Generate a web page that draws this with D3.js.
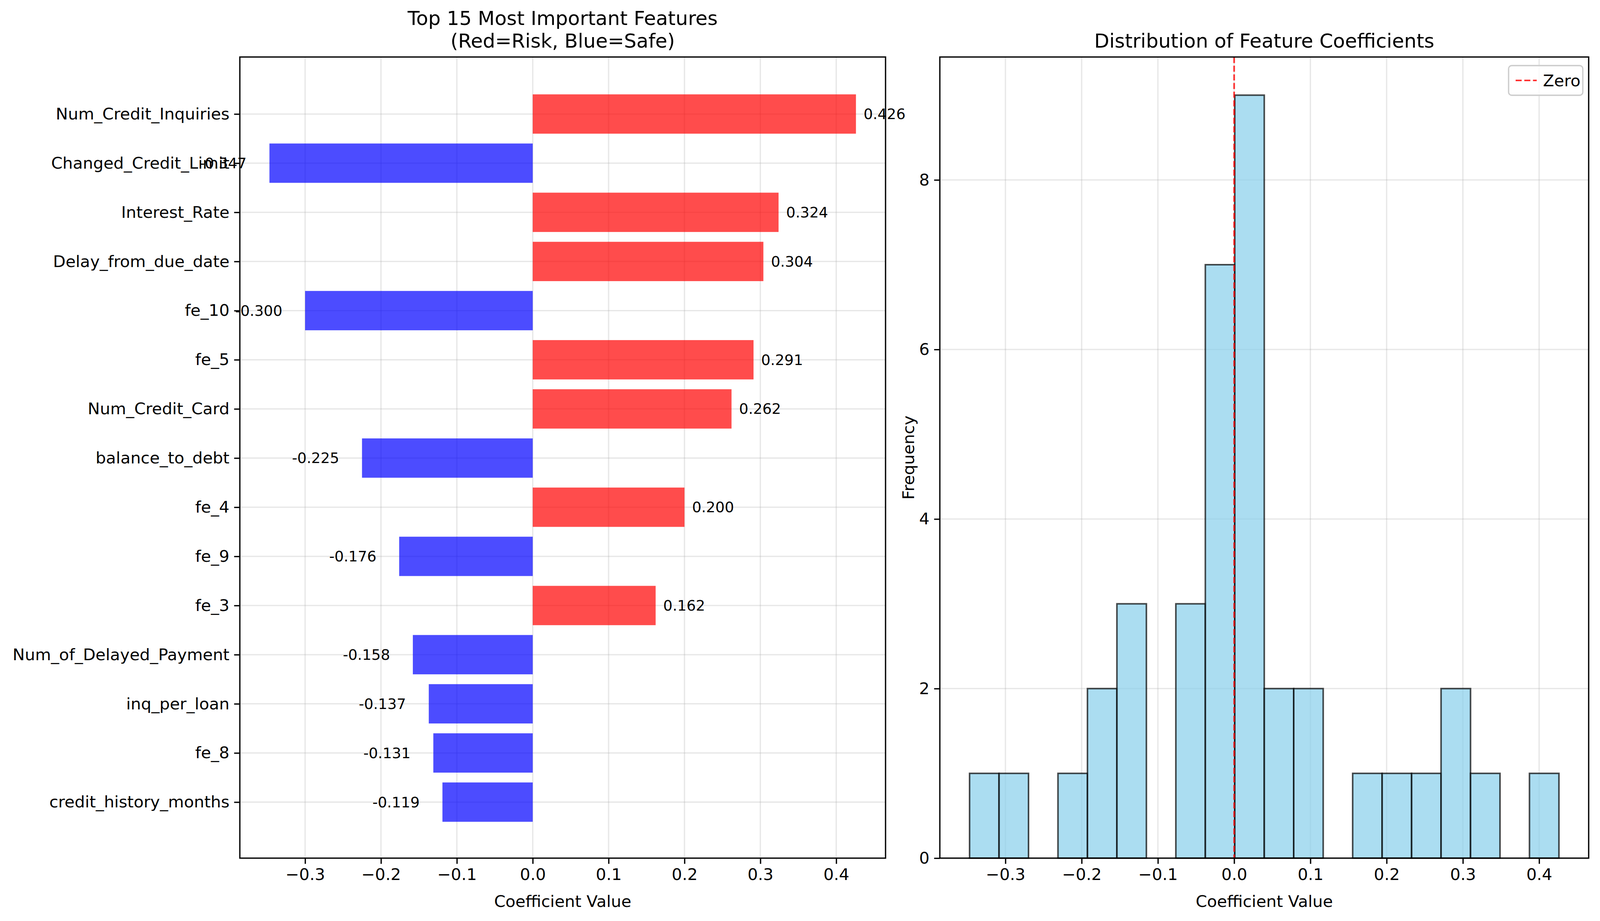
<!DOCTYPE html>
<html>
<head>
<meta charset="utf-8">
<script src="https://cdn.jsdelivr.net/npm/d3@7"></script>
<style>
  body { margin: 0; background: #fff; }
  text { font-family: "DejaVu Sans", sans-serif; fill: #000; }
</style>
</head>
<body>
<svg id="chart" width="4168" height="2359"></svg>
<script>
"use strict";

var features = ["Num_Credit_Inquiries", "Changed_Credit_Limit", "Interest_Rate", "Delay_from_due_date",
    "fe_10", "fe_5", "Num_Credit_Card", "balance_to_debt", "fe_4", "fe_9", "fe_3",
    "Num_of_Delayed_Payment", "inq_per_loan", "fe_8", "credit_history_months"];
var coefs = [0.426, -0.347, 0.324, 0.304, -0.300, 0.291, 0.262, -0.225, 0.200, -0.176, 0.162,
    -0.158, -0.137, -0.131, -0.119];

var histCounts = [1, 1, 0, 1, 2, 3, 0, 3, 7, 9, 2, 2, 0, 1, 1, 1, 2, 1, 0, 1];
var histMin = -0.347, histMax = 0.426;

var xTicks = [-0.3, -0.2, -0.1, 0.0, 0.1, 0.2, 0.3, 0.4];
var freqTicks = [0, 2, 4, 6, 8];

var svg = d3.select("#chart");
var FS = 41.7;
var LW = 3.3;

function frame(g, w, h) {
    g.append("rect").attr("width", w).attr("height", h)
        .attr("fill", "none").attr("stroke", "#000").attr("stroke-width", LW);
}
function styleAxis(a) {
    a.select(".domain").remove();
    a.selectAll("line").attr("stroke-width", LW);
    a.selectAll("text").attr("font-size", FS).style("font-family", "DejaVu Sans");
}
function fmtTick(d) { return d.toFixed(1).replace("-", "\u2212"); }

// ---------- left: bar chart ----------
var L = {x: 614, y: 146, w: 1653, h: 2052};
var gl = svg.append("g").attr("transform", "translate(" + L.x + "," + L.y + ")");
var xl = d3.scaleLinear().domain([-0.386, 0.465]).range([0, L.w]);
var yl = d3.scaleLinear().domain([-1.16, 15.14]).range([0, L.h]);

gl.selectAll(".vg").data(xTicks).enter().append("line")
    .attr("x1", xl).attr("x2", xl).attr("y1", 0).attr("y2", L.h)
    .attr("stroke", "#b0b0b0").attr("stroke-opacity", 0.3).attr("stroke-width", LW);
gl.selectAll(".hg").data(features).enter().append("line")
    .attr("x1", 0).attr("x2", L.w)
    .attr("y1", function (d, i) { return yl(i); }).attr("y2", function (d, i) { return yl(i); })
    .attr("stroke", "#b0b0b0").attr("stroke-opacity", 0.3).attr("stroke-width", LW);

gl.selectAll(".bar").data(coefs).enter().append("rect")
    .attr("x", function (d) { return xl(Math.min(0, d)); })
    .attr("width", function (d) { return Math.abs(xl(d) - xl(0)); })
    .attr("y", function (d, i) { return yl(i - 0.4); })
    .attr("height", yl(0.8) - yl(0))
    .attr("fill", function (d) { return d > 0 ? "#ff0000" : "#0000ff"; })
    .attr("fill-opacity", 0.7);

gl.selectAll(".val").data(coefs).enter().append("text")
    .attr("x", function (d) { return d > 0 ? xl(d + 0.01) : xl(d - 0.03); })
    .attr("y", function (d, i) { return yl(i); })
    .attr("dy", "0.35em")
    .attr("text-anchor", function (d) { return d > 0 ? "start" : "end"; })
    .attr("font-size", 37.5)
    .text(function (d) { return d.toFixed(3); });

frame(gl, L.w, L.h);

styleAxis(gl.append("g").attr("transform", "translate(0," + L.h + ")")
    .call(d3.axisBottom(xl).tickValues(xTicks).tickFormat(fmtTick).tickSize(14.6).tickPadding(12)));
styleAxis(gl.append("g")
    .call(d3.axisLeft(yl).tickValues(d3.range(features.length))
        .tickFormat(function (i) { return features[i]; }).tickSize(14.6).tickPadding(12)));
gl.append("text").attr("x", L.w / 2).attr("y", L.h + 125).attr("text-anchor", "middle")
    .attr("font-size", FS).text("Coefficient Value");
gl.append("text").attr("x", L.w / 2).attr("y", -82).attr("text-anchor", "middle")
    .attr("font-size", 50).text("Top 15 Most Important Features");
gl.append("text").attr("x", L.w / 2).attr("y", -24).attr("text-anchor", "middle")
    .attr("font-size", 50).text("(Red=Risk, Blue=Safe)");

// ---------- right: histogram ----------
var R = {x: 2406, y: 146, w: 1661, h: 2052};
var gr = svg.append("g").attr("transform", "translate(" + R.x + "," + R.y + ")");
var xr = d3.scaleLinear().domain([-0.386, 0.465]).range([0, R.w]);
var yr = d3.scaleLinear().domain([0, 9.45]).range([R.h, 0]);
var binW = (histMax - histMin) / histCounts.length;

gr.selectAll(".vg").data(xTicks).enter().append("line")
    .attr("x1", xr).attr("x2", xr).attr("y1", 0).attr("y2", R.h)
    .attr("stroke", "#b0b0b0").attr("stroke-opacity", 0.3).attr("stroke-width", LW);
gr.selectAll(".hg").data(freqTicks).enter().append("line")
    .attr("x1", 0).attr("x2", R.w).attr("y1", yr).attr("y2", yr)
    .attr("stroke", "#b0b0b0").attr("stroke-opacity", 0.3).attr("stroke-width", LW);

gr.selectAll(".hb").data(histCounts).enter().append("rect")
    .attr("x", function (d, i) { return xr(histMin + i * binW); })
    .attr("width", xr(binW) - xr(0))
    .attr("y", function (d) { return yr(d); })
    .attr("height", function (d) { return yr(0) - yr(d); })
    .attr("fill", "skyblue").attr("fill-opacity", 0.7)
    .attr("stroke", "#000").attr("stroke-opacity", 0.7).attr("stroke-width", 4)
    .style("display", function (d) { return d > 0 ? null : "none"; });

gr.append("line").attr("x1", xr(0)).attr("x2", xr(0)).attr("y1", 0).attr("y2", R.h)
    .attr("stroke", "red").attr("stroke-opacity", 0.8).attr("stroke-width", 4.2)
    .attr("stroke-dasharray", "15.5,6.7");

frame(gr, R.w, R.h);

styleAxis(gr.append("g").attr("transform", "translate(0," + R.h + ")")
    .call(d3.axisBottom(xr).tickValues(xTicks).tickFormat(fmtTick).tickSize(14.6).tickPadding(12)));
styleAxis(gr.append("g")
    .call(d3.axisLeft(yr).tickValues(freqTicks).tickFormat(d3.format("d")).tickSize(14.6).tickPadding(12)));
gr.append("text").attr("x", R.w / 2).attr("y", R.h + 125).attr("text-anchor", "middle")
    .attr("font-size", FS).text("Coefficient Value");
gr.append("text").attr("transform", "translate(-66," + R.h / 2 + ") rotate(-90)")
    .attr("text-anchor", "middle").attr("font-size", FS).text("Frequency");
gr.append("text").attr("x", R.w / 2).attr("y", -24).attr("text-anchor", "middle")
    .attr("font-size", 50).text("Distribution of Feature Coefficients");

// legend
var lg = gr.append("g").attr("transform", "translate(" + (R.w - 205) + ",22)");
lg.append("rect").attr("width", 190).attr("height", 76).attr("rx", 8)
    .attr("fill", "#fff").attr("fill-opacity", 0.8).attr("stroke", "#ccc").attr("stroke-width", LW);
lg.append("line").attr("x1", 18).attr("x2", 72).attr("y1", 38).attr("y2", 38)
    .attr("stroke", "red").attr("stroke-opacity", 0.8).attr("stroke-width", 4.2)
    .attr("stroke-dasharray", "15.5,6.7");
lg.append("text").attr("x", 88).attr("y", 38).attr("dy", "0.35em").attr("font-size", FS).text("Zero");
</script>
</body>
</html>
